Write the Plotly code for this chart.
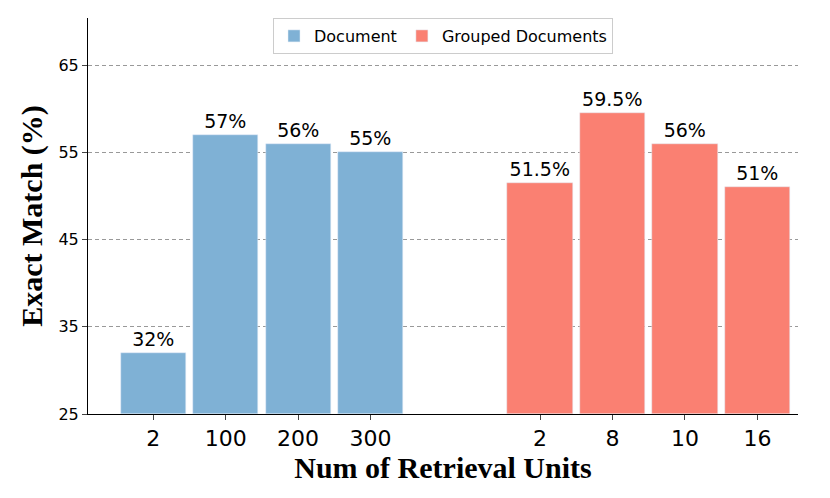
import plotly.graph_objects as go

doc_units = ["2", "100", "200", "300"]
doc_values = [32, 57, 56, 55]
doc_labels = ["32%", "57%", "56%", "55%"]
grp_units = ["2", "8", "10", "16"]
grp_values = [51.5, 59.5, 56, 51]
grp_labels = ["51.5%", "59.5%", "56%", "51%"]

doc_x = [0, 1, 2, 3]
grp_x = [5.34, 6.34, 7.34, 8.34]

fig = go.Figure()
fig.add_trace(go.Bar(x=doc_x, y=[v - 25 for v in doc_values], base=25, width=0.9,
                     name="Document", marker_color="#7fb1d5",
                     text=doc_labels, textposition="outside", cliponaxis=False,
                     textfont=dict(size=19, color="black")))
fig.add_trace(go.Bar(x=grp_x, y=[v - 25 for v in grp_values], base=25, width=0.9,
                     name="Grouped Documents", marker_color="#fa8072",
                     text=grp_labels, textposition="outside", cliponaxis=False,
                     textfont=dict(size=19, color="black")))

fig.update_layout(
    width=830, height=498,
    margin=dict(l=80, r=40, t=10, b=92),
    plot_bgcolor="white", paper_bgcolor="white",
    font=dict(family="DejaVu Sans", color="black"),
    legend=dict(orientation="h", x=0.5, xanchor="center", y=1.0, yanchor="top",
                bordercolor="#cccccc", borderwidth=1, font=dict(size=16)),
    xaxis=dict(tickvals=doc_x + grp_x, ticktext=doc_units + grp_units,
               range=[-0.9, 8.9], tickfont=dict(size=22), ticks="outside",
               showline=True, linecolor="black", showgrid=False,
               title=dict(text="<b>Num of Retrieval Units</b>", standoff=2,
                          font=dict(family="Liberation Serif", size=30))),
    yaxis=dict(range=[25, 70.4], tickvals=[25, 35, 45, 55, 65], tickfont=dict(size=16),
               ticks="outside", showline=True, linecolor="black",
               gridcolor="#999999", gridwidth=0.8, griddash="4px,3px", zeroline=False,
               title=dict(text="<b>Exact Match (%)</b>", standoff=6,
                          font=dict(family="Liberation Serif", size=30))),
    bargap=0,
)
fig.write_html("out.html")
